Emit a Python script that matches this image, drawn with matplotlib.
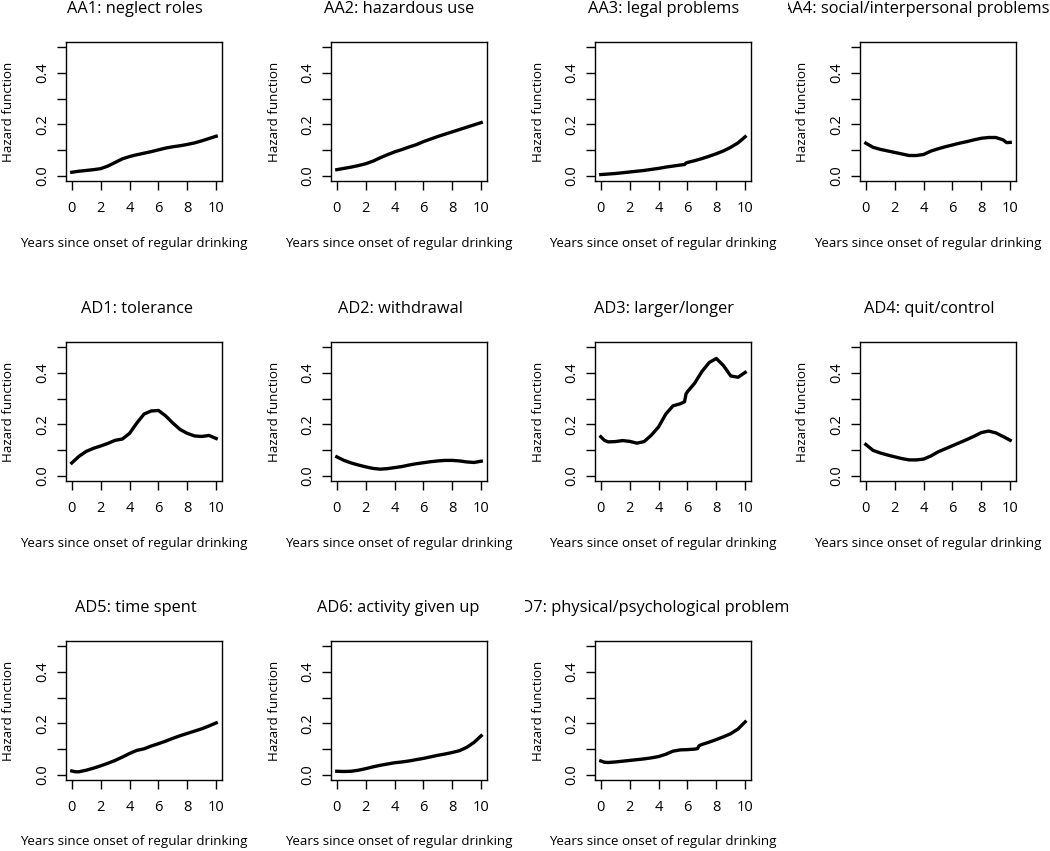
"""Curvas de hazard por síntoma (AA1–AA4, AD1–AD7), 11 paneles estilo R base."""
import matplotlib
matplotlib.use("Agg")
import matplotlib.pyplot as plt
from matplotlib.transforms import Bbox, IdentityTransform, TransformedBbox

plt.rcParams["font.family"] = ["Open Sans", "DejaVu Sans"]

# ---- datos ----
TITLES = ["AA1: neglect roles", "AA2: hazardous use", "AA3: legal problems",
          "AA4: social/interpersonal problems",
          "AD1: tolerance", "AD2: withdrawal", "AD3: larger/longer", "AD4: quit/control",
          "AD5: time spent", "AD6: activity given up",
          "AD7: physical/psychological problems"]

YEARS = [0, 0.5, 1, 1.5, 2, 2.5, 3, 3.5, 4, 4.5, 5, 5.5, 6, 6.5, 7, 7.5, 8, 8.5, 9, 9.5, 10]

AA1_Y = [0.014, 0.018, 0.021, 0.024, 0.028, 0.038, 0.052, 0.066, 0.075, 0.082, 0.088,
         0.094, 0.101, 0.108, 0.113, 0.117, 0.122, 0.128, 0.136, 0.145, 0.154]
AA2_Y = [0.024, 0.029, 0.034, 0.040, 0.047, 0.057, 0.070, 0.082, 0.093, 0.102, 0.112,
         0.121, 0.133, 0.143, 0.153, 0.162, 0.171, 0.180, 0.189, 0.198, 0.207]
AA3_X = [0, 0.5, 1, 1.5, 2, 2.5, 3, 3.5, 4, 4.5, 5, 5.5, 5.8, 5.9, 6, 6.5, 7, 7.5, 8,
         8.5, 9, 9.5, 10]
AA3_Y = [0.005, 0.007, 0.009, 0.012, 0.015, 0.018, 0.021, 0.025, 0.029, 0.034, 0.038,
         0.042, 0.044, 0.050, 0.052, 0.059, 0.067, 0.076, 0.086, 0.097, 0.111, 0.128, 0.152]
AA4_X = [0, 0.5, 1, 1.5, 2, 2.5, 3, 3.5, 4, 4.5, 5, 5.5, 6, 6.5, 7, 7.5, 8, 8.5, 9,
         9.5, 9.75, 10]
AA4_Y = [0.127, 0.111, 0.103, 0.097, 0.091, 0.085, 0.079, 0.079, 0.083, 0.096, 0.105,
         0.113, 0.120, 0.127, 0.133, 0.140, 0.146, 0.149, 0.149, 0.140, 0.129, 0.130]
AD1_Y = [0.050, 0.076, 0.095, 0.107, 0.116, 0.126, 0.138, 0.143, 0.165, 0.205, 0.240,
         0.252, 0.254, 0.233, 0.205, 0.180, 0.165, 0.155, 0.153, 0.157, 0.145]
AD2_Y = [0.074, 0.060, 0.050, 0.042, 0.035, 0.029, 0.026, 0.028, 0.032, 0.036, 0.042,
         0.047, 0.051, 0.055, 0.058, 0.060, 0.060, 0.058, 0.054, 0.052, 0.057]
AD3_X = [0, 0.25, 0.5, 1, 1.5, 2, 2.5, 3, 3.5, 4, 4.5, 5, 5.5, 5.8, 5.9, 6, 6.5, 7,
         7.5, 8, 8.5, 9, 9.5, 10]
AD3_Y = [0.152, 0.138, 0.132, 0.133, 0.137, 0.134, 0.127, 0.133, 0.158, 0.190, 0.240,
         0.272, 0.280, 0.288, 0.318, 0.327, 0.360, 0.405, 0.440, 0.456, 0.428, 0.388,
         0.383, 0.402]
AD4_Y = [0.122, 0.099, 0.089, 0.081, 0.074, 0.067, 0.062, 0.062, 0.065, 0.077, 0.093,
         0.105, 0.117, 0.129, 0.141, 0.154, 0.168, 0.174, 0.167, 0.153, 0.138]
AD5_X = [0, 0.25, 0.5, 1, 1.5, 2, 2.5, 3, 3.5, 4, 4.5, 5, 5.5, 6, 6.5, 7, 7.5, 8, 8.5,
         9, 9.5, 10]
AD5_Y = [0.015, 0.012, 0.012, 0.018, 0.026, 0.035, 0.045, 0.056, 0.069, 0.083, 0.095,
         0.101, 0.112, 0.121, 0.131, 0.142, 0.152, 0.161, 0.170, 0.179, 0.190, 0.202]
AD6_Y = [0.014, 0.013, 0.014, 0.018, 0.024, 0.031, 0.037, 0.042, 0.047, 0.050, 0.054,
         0.059, 0.064, 0.070, 0.076, 0.081, 0.087, 0.094, 0.107, 0.126, 0.152]
AD7_X = [0, 0.25, 0.5, 1, 1.5, 2, 2.5, 3, 3.5, 4, 4.5, 5, 5.5, 6, 6.5, 6.7, 6.8, 7,
         7.5, 8, 8.5, 9, 9.5, 10]
AD7_Y = [0.054, 0.049, 0.048, 0.050, 0.053, 0.056, 0.059, 0.062, 0.066, 0.071, 0.080,
         0.092, 0.097, 0.098, 0.100, 0.102, 0.113, 0.118, 0.127, 0.137, 0.148, 0.160,
         0.178, 0.206]

SERIES = [(YEARS, AA1_Y), (YEARS, AA2_Y), (AA3_X, AA3_Y), (AA4_X, AA4_Y),
          (YEARS, AD1_Y), (YEARS, AD2_Y), (AD3_X, AD3_Y), (YEARS, AD4_Y),
          (AD5_X, AD5_Y), (YEARS, AD6_Y), (AD7_X, AD7_Y)]

XLABEL = "Years since onset of regular drinking"
YLABEL = "Hazard function"
XTICKS = [0, 2, 4, 6, 8, 10]
YTICKS = [0.0, 0.1, 0.2, 0.3, 0.4, 0.5]
YTICKLABELS = ["0.0", "", "0.2", "", "0.4", ""]

# ---- layout en píxeles (figura 1050x851 a 100 dpi) ----
W, H = 1050, 851
BOX_L = [66, 331, 595, 860]
BOX_T = [42, 342, 641]
BOX_W, BOX_H = 156, 139
COL_W, ROW_H = W / 4, H / 3


def main() -> None:
    fig = plt.figure(figsize=(W / 100, H / 100), dpi=100)
    renderer = fig.canvas.get_renderer()

    for i, (title, (xs, ys)) in enumerate(zip(TITLES, SERIES)):
        r, c = divmod(i, 4)
        L, T = BOX_L[c], BOX_T[r]
        ax = fig.add_axes([L / W, 1 - (T + BOX_H) / H, BOX_W / W, BOX_H / H])
        ax.plot(xs, ys, color="black", lw=2.4, solid_joinstyle="round")
        ax.set_xlim(-0.4, 10.4)
        ax.set_ylim(-0.02, 0.52)
        ax.set_xticks(XTICKS)
        ax.set_yticks(YTICKS)
        ax.set_yticklabels(YTICKLABELS, rotation=90, va="center")
        ax.tick_params(direction="out", length=6.5, width=1.0, labelsize=10.5)
        ax.tick_params(axis="x", pad=8)
        ax.tick_params(axis="y", pad=5)
        for s in ax.spines.values():
            s.set_linewidth(1.0)

        # recorte de texto a la región de cada panel (como en R)
        clip = TransformedBbox(Bbox.from_extents(c * COL_W, H - (r + 1) * ROW_H,
                                                 (c + 1) * COL_W, H - r * ROW_H),
                               IdentityTransform())
        cx = L + BOX_W / 2
        t = fig.text(0, 1 - (T - 33) / H, title, fontsize=11.8, ha="left", va="center")
        w = t.get_window_extent(renderer).width
        x0 = min(cx - 1.13 * w / 2, W - 1 - w)  # que no se salga por la derecha
        t.set_x(x0 / W)
        t.set_clip_box(clip)
        t.set_clip_on(True)

        xl = fig.text(0, 1 - (T + BOX_H + 62) / H, XLABEL, fontsize=9.6,
                      ha="left", va="center")
        w = xl.get_window_extent(renderer).width
        xl.set_x((cx - 1.09 * w / 2) / W)
        xl.set_clip_box(clip)
        xl.set_clip_on(True)

        fig.text((L - 57) / W, 1 - (T + BOX_H / 2) / H, YLABEL, fontsize=9.6,
                 rotation=90, ha="center", va="center")

    fig.savefig("out.png", dpi=100)


if __name__ == "__main__":
    main()
